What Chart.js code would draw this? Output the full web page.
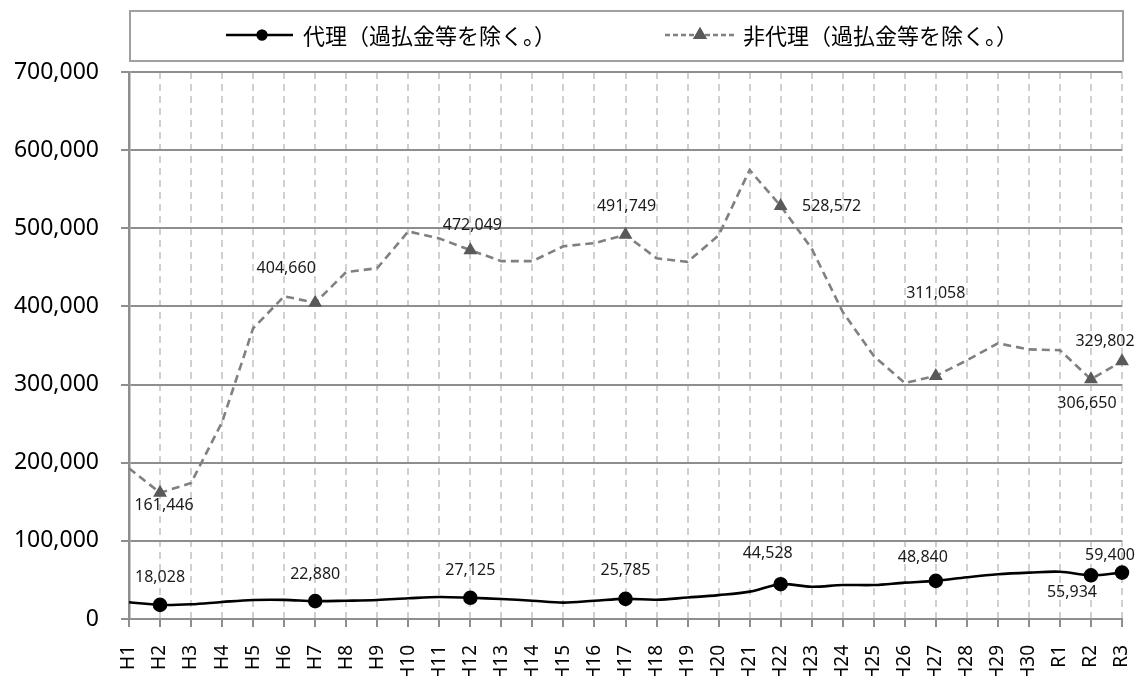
<!DOCTYPE html>
<html lang="ja">
<head>
  <meta charset="UTF-8">
  <title>代理・非代理（過払金等を除く。）</title>
  <script src="https://cdn.jsdelivr.net/npm/chart.js"></script>
  <style>
    html, body { margin: 0; padding: 0; background: #fff; }
    #wrap { position: relative; width: 1142px; height: 676px; }
  </style>
</head>
<body>
  <div id="wrap"><canvas id="chart"></canvas></div>
  <script>
    // 年度
    var years = ['H1', 'H2', 'H3', 'H4', 'H5', 'H6', 'H7', 'H8', 'H9', 'H10',
      'H11', 'H12', 'H13', 'H14', 'H15', 'H16', 'H17', 'H18', 'H19', 'H20',
      'H21', 'H22', 'H23', 'H24', 'H25', 'H26', 'H27', 'H28', 'H29', 'H30',
      'R1', 'R2', 'R3'];

    // 代理（過払金等を除く。）
    var agent = [21400, 18028, 18800, 21800, 24300, 24500, 22880, 23400, 24300, 26500,
      28200, 27125, 25600, 23400, 20900, 23400, 25785, 24700, 27500, 30500,
      35000, 44528, 41300, 43500, 43500, 46500, 48840, 53400, 57200, 59300,
      60500, 55934, 59400];

    // 非代理（過払金等を除く。）
    var nonAgent = [193000, 161446, 174000, 252000, 372000, 413000, 404660, 444000, 449000, 496000,
      487000, 472049, 458000, 458000, 477000, 481000, 491749, 461600, 457000, 491000,
      574600, 528572, 474000, 393000, 336600, 302000, 311058, 331000, 352800, 345000,
      344000, 306650, 329802];

    // マーカーと数値を表示する年度
    var markedYears = ['H2', 'H7', 'H12', 'H17', 'H22', 'H27', 'R2', 'R3'];

    // 目盛
    var yTicks = [0, 100000, 200000, 300000, 400000, 500000, 600000, 700000];

    function isMarked(ctx) {
      return markedYears.indexOf(years[ctx.dataIndex]) >= 0;
    }

    // データラベルの位置 (点からのずれ)
    var labelOffsets = [
      { H2: [0, -27], H7: [0, -27], H12: [0, -27], H17: [0, -28], H22: [-13, -31], H27: [-13, -23], R2: [-19, 17], R3: [-12, -17] },
      { H2: [4, 13], H7: [-29, -34], H12: [2, -25], H17: [1, -28], H22: [51, 0], H27: [0, -82], R2: [-4, 24], R3: [-17, -20] }
    ];

    var dataLabels = {
      id: 'dataLabels',
      afterDatasetsDraw: function (chart) {
        var ctx = chart.ctx;
        ctx.save();
        ctx.font = '16px "Noto Sans"';
        ctx.fillStyle = '#1a1a1a';
        ctx.textAlign = 'center';
        ctx.textBaseline = 'middle';
        chart.data.datasets.forEach(function (ds, i) {
          var meta = chart.getDatasetMeta(i);
          markedYears.forEach(function (y) {
            var idx = years.indexOf(y);
            var pt = meta.data[idx];
            var off = labelOffsets[i][y] || [0, -25];
            ctx.fillText(ds.data[idx].toLocaleString('en-US'), pt.x + off[0], pt.y + off[1]);
          });
        });
        ctx.restore();
      }
    };

    // 枠付き凡例
    var boxLegend = {
      id: 'boxLegend',
      afterDraw: function (chart) {
        var ctx = chart.ctx;
        var ds = chart.data.datasets;
        ctx.save();
        ctx.strokeStyle = '#a0a0a0';
        ctx.lineWidth = 2;
        ctx.strokeRect(130, 11, 993, 50);

        var items = [
          { x1: 226, x2: 293, mx: 262, tx: 303, dash: [], r: 5.5 },
          { x1: 665, x2: 735, mx: 700, tx: 743, dash: [5, 3], r: 8 }
        ];
        items.forEach(function (it, i) {
          var d = ds[i];
          ctx.strokeStyle = d.borderColor;
          ctx.lineWidth = 2.5;
          ctx.setLineDash(it.dash);
          ctx.beginPath();
          ctx.moveTo(it.x1, 35);
          ctx.lineTo(it.x2, 35);
          ctx.stroke();
          ctx.setLineDash([]);
          ctx.fillStyle = d.pointBackgroundColor;
          Chart.helpers.drawPoint(ctx, { pointStyle: d.pointStyle, radius: it.r, borderWidth: 0 }, it.mx, 35);
          ctx.fill();
          ctx.fillStyle = '#000';
          ctx.font = '22px "Noto Sans CJK JP"';
          ctx.textAlign = 'left';
          ctx.textBaseline = 'middle';
          ctx.fillText(d.label, it.tx, 36);
        });
        ctx.restore();
      }
    };

    var ctx = document.getElementById('chart').getContext('2d');
    var chart = new Chart(ctx, {
      type: 'line',
      data: {
        labels: years,
        datasets: [{
          label: '代理（過払金等を除く。）',
          data: agent,
          borderColor: '#000000',
          backgroundColor: '#000000',
          pointBackgroundColor: '#000000',
          pointBorderColor: '#000000',
          borderWidth: 2.6,
          tension: 0.35,
          pointStyle: 'circle',
          pointRadius: function (c) { return isMarked(c) ? 6 : 0; },
          pointHoverRadius: 0
        },
        {
          label: '非代理（過払金等を除く。）',
          data: nonAgent,
          borderColor: '#808080',
          backgroundColor: '#595959',
          pointBackgroundColor: '#595959',
          pointBorderColor: '#595959',
          borderWidth: 2.6,
          borderDash: [8, 5],
          tension: 0,
          pointStyle: 'triangle',
          pointRadius: function (c) { return isMarked(c) ? 8 : 0; },
          pointBorderWidth: 0,
          pointHoverRadius: 0
        }]
      },
      options: {
        responsive: true,
        maintainAspectRatio: false,
        animation: false,
        layout: { padding: { top: 72, right: 20, left: 0, bottom: 0 } },
        plugins: {
          legend: { display: false },
          tooltip: { enabled: false }
        },
        scales: {
          x: {
            offset: false,
            grid: {
              color: '#d0d0d0',
              lineWidth: 2,
              tickColor: '#8e8e8e',
              tickWidth: 2,
              tickLength: 8,
              tickBorderDash: []
            },
            border: { color: '#8e8e8e', width: 2, dash: [7, 5] },
            ticks: {
              autoSkip: false,
              minRotation: 90,
              maxRotation: 90,
              padding: 18,
              color: '#000',
              font: { family: 'Noto Sans', size: 19 }
            },
            afterFit: function (s) {
              s.height = 57;
              s.paddingLeft = 0;
              s.paddingRight = 0;
            }
          },
          y: {
            min: 0,
            max: 700000,
            afterBuildTicks: function (s) {
              s.ticks = yTicks.map(function (v) { return { value: v }; });
            },
            grid: {
              color: '#8e8e8e',
              lineWidth: 2,
              tickLength: 8,
              tickColor: '#8e8e8e'
            },
            border: { color: '#8e8e8e', width: 2.5 },
            ticks: {
              padding: 22,
              color: '#000',
              font: { family: 'Noto Sans', size: 23 },
              callback: function (v) { return v.toLocaleString('en-US'); }
            },
            afterFit: function (s) { s.width = 129; }
          }
        }
      },
      plugins: [dataLabels, boxLegend]
    });
  </script>
</body>
</html>
